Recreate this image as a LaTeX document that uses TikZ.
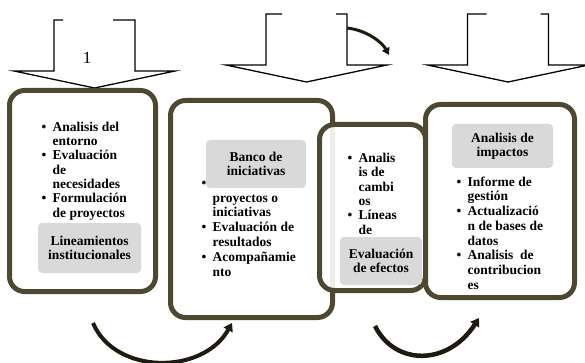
\documentclass[tikz,border=0pt]{standalone}
\usepackage{fontspec}
\setmainfont{Liberation Serif}
\usepackage{tikz}
\usetikzlibrary{arrows.meta}
\definecolor{marcoOliva}{HTML}{4F4830}
\definecolor{flechaOscura}{HTML}{1E1A0F}
\definecolor{grisClaro}{HTML}{D9D9D9}
\newcommand{\bul}{\makebox[11pt][l]{\textbullet}}
\newcommand{\sangria}{\hspace*{11pt}}
\newcommand{\alto}{\rule{0pt}{10pt}}

\begin{document}
\begin{tikzpicture}[x=1pt,y=-1pt, every node/.style={font=\fontsize{13.5}{14.3}\selectfont\bfseries},
  caja/.style={draw=marcoOliva,fill=white,line width=5pt,rounded corners=15pt,inner sep=0pt},
  etiqueta/.style={fill=grisClaro,rounded corners=4pt,align=center,inner sep=0pt},
  lista/.style={anchor=north west,align=left,inner sep=0pt},
  bloque/.style={draw=black,line width=1.3pt,line join=miter},
  giro/.style={draw=flechaOscura,-{Triangle[length=8pt,width=10pt]}}]
\useasboundingbox (0,0) rectangle (585,363);
% flechas de bloque
\foreach \cx/\ty/\gl/\gr in {94.5/20/9/22, 306.5/14/16/11, 508/14/19/8}
  \draw[bloque] (\cx-40.5+\gl,\ty) -- (\cx-40.5,\ty) -- (\cx-40.5,\ty+51) -- (\cx-80.5,\ty+51)
    -- (\cx,\ty+68) -- (\cx+80.5,\ty+51) -- (\cx+40.5,\ty+51) -- (\cx+40.5,\ty) -- (\cx+40.5-\gr,\ty);
\node[font=\fontsize{17}{20}\selectfont] (n1) at (87,58) {1};
% caja 1
\node[caja,minimum width=146pt,minimum height=201pt] (c1) at (82.5,191) {};
\node[lista] (l1) at (41.5,121) {\bul\alto Analisis del\\ \sangria entorno\\ \bul Evaluación\\ \sangria de\\
  \sangria necesidades\\ \bul Formulación\\ \sangria de proyectos};
\node[etiqueta,minimum width=103pt,minimum height=50pt] (e1) at (89.5,248) {Lineamientos\\institucionales};
% caja 2
\node[caja,minimum width=162pt,minimum height=217pt] (c2) at (251.5,209) {};
\node[lista,font=\fontsize{13.5}{14.8}\selectfont\bfseries] (l2) at (201.5,177) {\bul\alto\\ \sangria proyectos o\\
  \sangria iniciativas\\ \bul Evaluación de\\ \sangria resultados\\ \bul Acompañamie\\ \sangria nto};
\node[etiqueta,minimum width=100pt,minimum height=48pt] (e2) at (256,164) {Banco de\\iniciativas};
% caja 3
\node[caja,fill opacity=0.9,minimum width=106pt,minimum height=166pt] (c3) at (372.5,207.5) {};
\node[lista,font=\fontsize{13.5}{14.4}\selectfont\bfseries] (l3) at (347.5,152) {\bul\alto Analis\\ \sangria is de\\
  \sangria cambi\\ \sangria os\\ \bul Líneas\\ \sangria de};
\node[etiqueta,minimum width=82pt,minimum height=48pt] (e3) at (381,261) {Evaluación\\de efectos};
% caja 4
\node[caja,minimum width=149pt,minimum height=193pt] (c4) at (500,201) {};
\node[lista,font=\fontsize{13.5}{14.7}\selectfont\bfseries] (l4) at (456.5,176) {\bul\alto Informe de\\ \sangria gestión\\
  \bul Actualizació\\ \sangria n de bases de\\ \sangria datos\\ \bul Analisis~ de\\ \sangria contribucion\\ \sangria es};
\node[etiqueta,minimum width=101pt,minimum height=44pt] (e4) at (502.5,146) {Analisis de\\impactos};
% flechas curvas
\coordinate (a1) at (93,323); \coordinate (a2) at (232,323);
\coordinate (b1) at (375,326); \coordinate (b2) at (479,318);
\coordinate (t1) at (347,28); \coordinate (t2) at (389,55);
\draw[giro,line width=4pt] (a1) .. controls (115,375) and (203,375) .. (a2);
\draw[giro,line width=4.5pt] (b1) .. controls (395,366) and (448,366) .. (b2);
\draw[giro,line width=3pt,-{Triangle[length=7pt,width=8pt]}] (t1) .. controls (366,30) and (382,42) .. (t2);
\end{tikzpicture}
\end{document}
